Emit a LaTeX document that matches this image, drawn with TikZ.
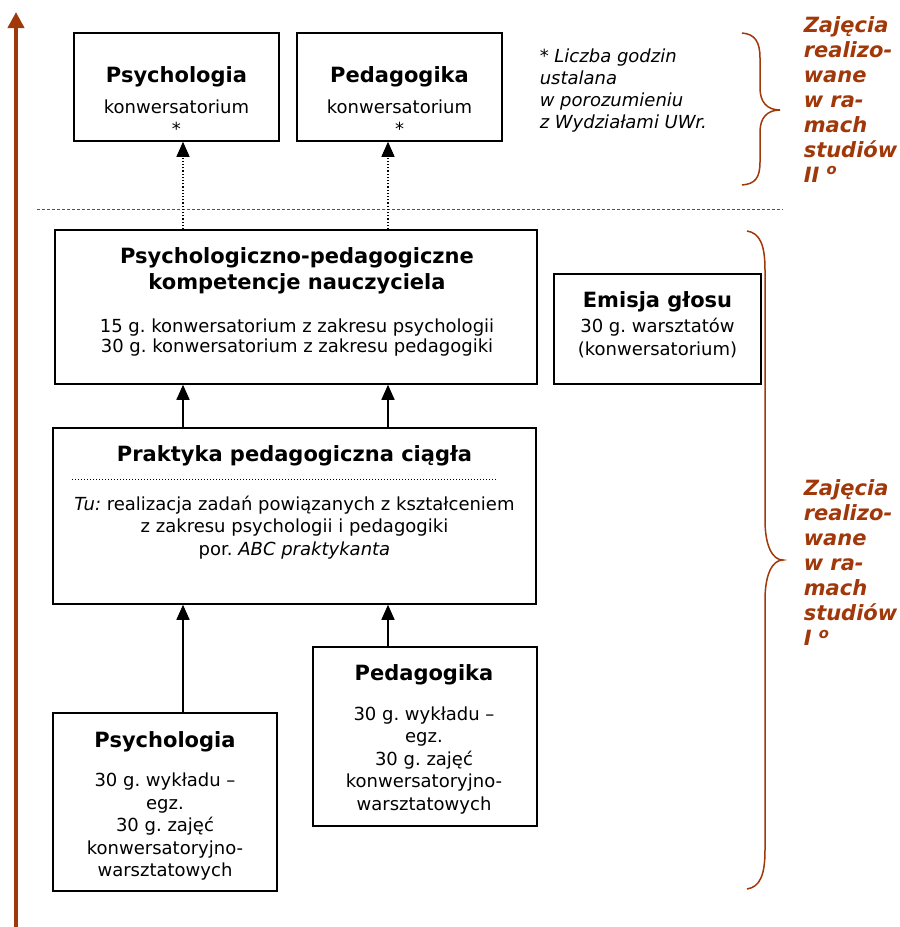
\documentclass[tikz,border=0pt]{standalone}
\usepackage{fontspec}
\setmainfont{DejaVu Sans}
\usetikzlibrary{arrows.meta}
\definecolor{brick}{RGB}{160,56,10}
\newcommand{\boxtitle}{\fontsize{21}{26}\selectfont\bfseries}
\frenchspacing

\begin{document}
\begin{tikzpicture}[x=1pt,y=-1pt,line width=1.5pt,
  every node/.style={font=\fontsize{18}{22.5}\selectfont,inner sep=0pt},
  frame/.style={shape=rectangle,draw},
  txt/.style={align=center,anchor=north},
  side/.style={align=left,anchor=north west,text=brick,font=\fontsize{21}{25}\selectfont\bfseries\itshape},
  up/.style={-{Triangle[width=13pt,length=15pt]}},
  brace/.style={draw=brick,line width=1.5pt}]
\useasboundingbox (0,0) rectangle (900,927);
% columns of the connectors
\coordinate (colA) at (183,0);
\coordinate (colB) at (388,0);

% boxes
\path (176.5,87) node (psyTop) [frame,minimum width=205,minimum height=108] {};
\path (399.5,87) node (pedTop) [frame,minimum width=205,minimum height=108] {};
\path (296,307) node (kompet) [frame,minimum width=482,minimum height=154] {};
\path (657.5,329) node (emisja) [frame,minimum width=207,minimum height=110] {};
\path (294.5,516) node (prak) [frame,minimum width=483,minimum height=176] {};
\path (165,802) node (psyBot) [frame,minimum width=224,minimum height=178] {};
\path (425,736.5) node (pedBot) [frame,minimum width=224,minimum height=179] {};

% texts
\path (176.5,66) node (psyTopT) [txt] {{\boxtitle Psychologia}\\[8.5pt] konwersatorium\\[-1pt] *};
\path (399.5,66) node (pedTopT) [txt] {{\boxtitle Pedagogika}\\[8.5pt] konwersatorium\\[-1pt] *};
\path (539,47.8) node (note) [anchor=north west,align=left,font=\fontsize{18}{22}\selectfont\itshape]
  {* Liczba godzin\\ ustalana\\ w porozumieniu\\ z Wydziałami UWr.};
\path (297,247) node (kompetT) [txt] {{\boxtitle Psychologiczno-pedagogiczne}\\[3.5pt]
  {\boxtitle kompetencje nauczyciela}\\[20.3pt] 15 g. konwersatorium z zakresu psychologii\\[-2.5pt]
  30 g. konwersatorium z zakresu pedagogiki};
\path (657.5,291) node (emisjaT) [txt] {{\boxtitle Emisja głosu}\\[2.3pt] 30 g. warsztatów\\ (konwersatorium)};
\path (294.5,444.6) node (prakT) [txt] {\boxtitle Praktyka pedagogiczna ciągła};
\path (294.5,495) node (prakS) [txt] {\textit{Tu:} realizacja zadań powiązanych z kształceniem\\
  z zakresu psychologii i pedagogiki\\ por. \textit{ABC praktykanta}};
\path (165,731) node (psyBotT) [txt] {{\boxtitle Psychologia}\\[16.3pt] 30 g. wykładu –\\ egz.\\
  30 g. zajęć\\ konwersatoryjno-\\ warsztatowych};
\path (424,664) node (pedBotT) [txt] {{\boxtitle Pedagogika}\\[16.8pt] 30 g. wykładu –\\ egz.\\
  30 g. zajęć\\ konwersatoryjno-\\ warsztatowych};
\path (803,15.5) node (levelII) [side] {Zajęcia\\ realizo-\\ wane\\ w ra-\\ mach\\ studiów\\ II \textsuperscript{o}};
\path (803,479) node (levelI) [side] {Zajęcia\\ realizo-\\ wane\\ w ra-\\ mach\\ studiów\\ I \textsuperscript{o}};

% separators
\draw [brick,line width=1pt,dash pattern=on 3pt off 2pt] (37,209) -- (783,209);
\draw [line width=1pt,dotted] (72,479) -- (497,479);

% connectors
\draw [up,line width=1.2pt,dotted] (kompet.north -| colA) to (psyTop.south -| colA);
\draw [up,line width=1.2pt,dotted] (kompet.north -| colB) to (pedTop.south -| colB);
\draw [up] (prak.north -| colA) to (kompet.south -| colA);
\draw [up] (prak.north -| colB) to (kompet.south -| colB);
\draw [up] (psyBot.north -| colA) to (prak.south -| colA);
\draw [up] (pedBot.north -| colB) to (prak.south -| colB);

% braces
\draw [brace] (742,33) .. controls (755,34) and (760,42) .. (760,58) -- (760,88)
  .. controls (760,102) and (767,110) .. (780,110) .. controls (767,110) and (760,118) .. (760,132)
  -- (760,162) .. controls (760,178) and (755,184) .. (742,185);
\draw [brace] (747,231) .. controls (760,233) and (765,245) .. (765,270) -- (765,520)
  .. controls (765,545) and (772,560) .. (783,560) .. controls (772,560) and (765,575) .. (765,600)
  -- (765,850) .. controls (765,875) and (760,887) .. (747,889);

% time axis
\coordinate (axisFoot) at (16,927);
\coordinate (axisHead) at (16,12);
\draw [brick,line width=4pt,-{Triangle[width=16pt,length=16pt]}] (axisFoot) -- (axisHead);
\end{tikzpicture}
\end{document}
